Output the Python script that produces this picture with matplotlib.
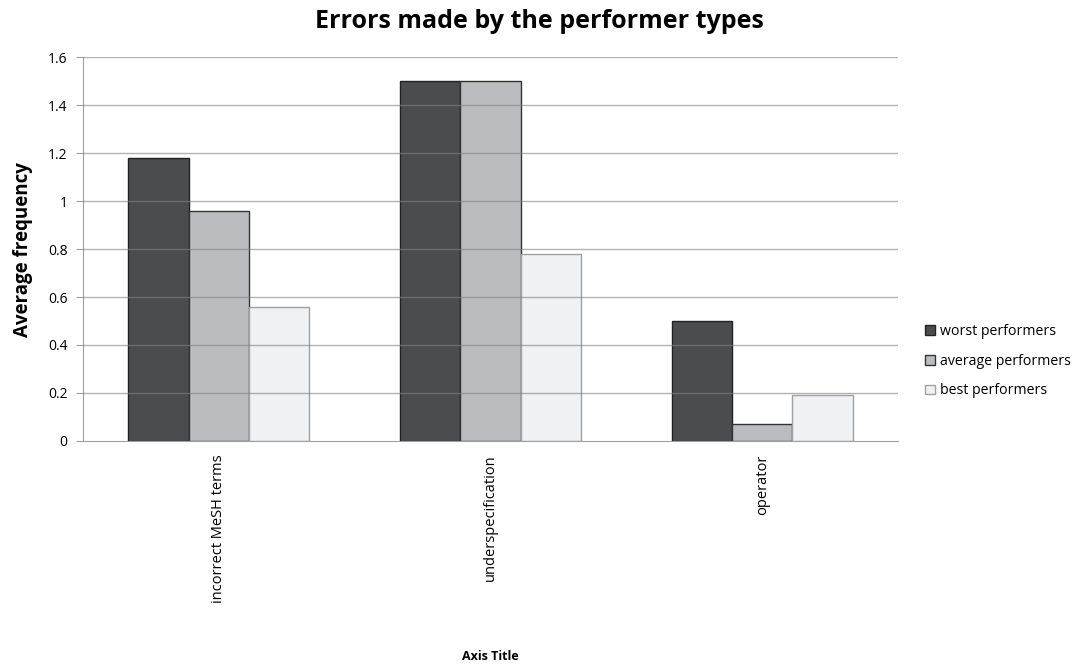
import numpy as np
import matplotlib.pyplot as plt

plt.rcParams['font.family'] = ['Open Sans', 'DejaVu Sans']

categories = ['incorrect MeSH terms', 'underspecification', 'operator']
series_names = ['worst performers', 'average performers', 'best performers']
worst = [1.18, 1.50, 0.50]
average = [0.96, 1.50, 0.07]
best = [0.56, 0.78, 0.19]

face_colors = ['#4b4c4e', '#bbbcc0', '#f0f1f3']
edge_colors = ['#222222', '#333333', '#a0a0a0']

fig = plt.figure(figsize=(10.78, 6.66), dpi=100)
ax = fig.add_axes([0.077, 0.338, 0.756, 0.576])

x = np.arange(len(categories))
width = 1 / 4.5
for i, (vals, name) in enumerate(zip([worst, average, best], series_names)):
    ax.bar(x + (i - 1) * width, vals, width, color=face_colors[i],
           edgecolor=edge_colors[i], linewidth=1.0, label=name, zorder=2)

# Gridlines sit over the bars, faintly
for y in np.arange(0.2, 1.61, 0.2):
    ax.axhline(y, color='#808080', alpha=0.6, linewidth=1.0, zorder=3)

ax.set_xlim(-0.5, 2.5)
ax.set_ylim(0, 1.6)
ax.set_yticks(np.arange(0, 1.61, 0.2))
ax.set_yticklabels(['0', '0.2', '0.4', '0.6', '0.8', '1', '1.2', '1.4', '1.6'],
                   fontsize=10)
ax.set_xticks(x)
ax.set_xticklabels(categories, rotation=90, fontsize=10.5, va='top')
ax.tick_params(axis='x', length=0, pad=10)
ax.tick_params(axis='y', length=5, color='#a0a0a0', pad=6)

for side in ['top', 'right']:
    ax.spines[side].set_visible(False)
for side in ['left', 'bottom']:
    ax.spines[side].set_color('#a0a0a0')

ax.set_ylabel('Average frequency', fontsize=13.5, fontweight='bold',
              labelpad=11)
fig.text(0.455, 1 - 656 / 666, 'Axis Title', fontsize=9, fontweight='bold',
         ha='center', va='center')

fig.text(0.5, 1 - 22 / 666, 'Errors made by the performer types',
         fontsize=18, fontweight='bold', ha='center', va='center')

ax.legend(loc='center left', bbox_to_anchor=(1.018, 0.208), frameon=False,
          fontsize=10.2, handlelength=0.7, handleheight=0.7,
          handletextpad=0.3, labelspacing=1.05)

fig.savefig('out.png', dpi=100)
